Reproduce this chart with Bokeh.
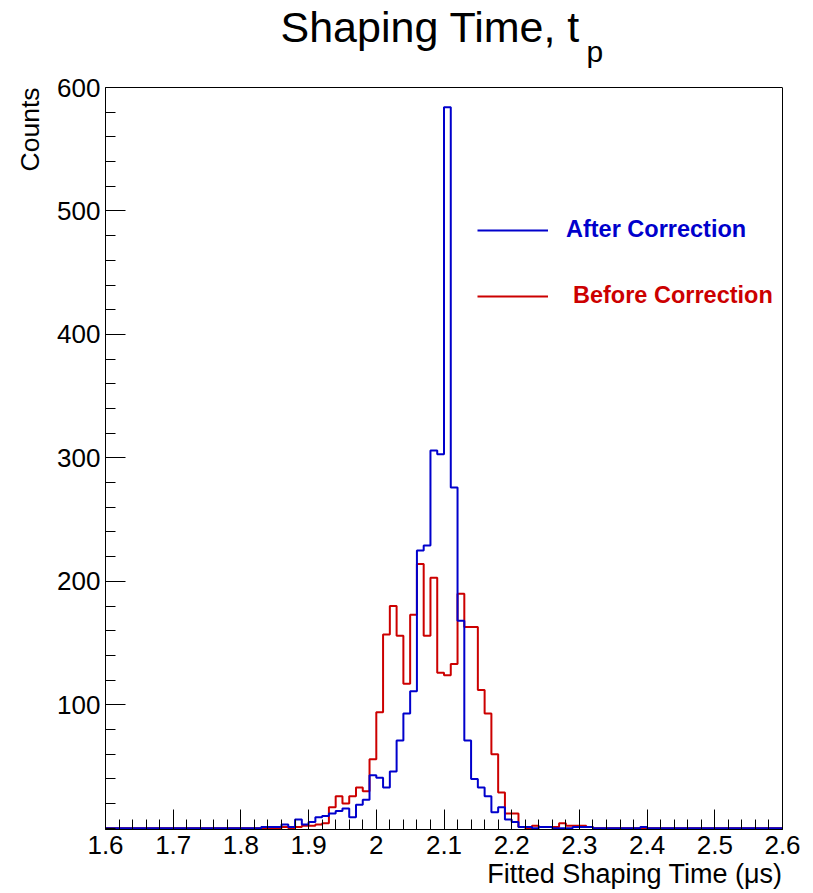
import math
from bokeh.plotting import figure
from bokeh.models import (Range1d, FixedTicker, Label, Legend, LegendItem,
                          LinearAxis, Span, Title)
from bokeh.embed import file_html
from bokeh.resources import INLINE

# ---------------- data ----------------
bin_low = 1.60
bin_width = 0.01
n_bins = 100

# counts per bin (bins of 0.01 from 1.60 to 2.60)
after_counts = [
    0, 0, 0, 0, 0, 0, 0, 0, 0, 0,          # 1.60-1.69
    0, 0, 0, 0, 0, 0, 0, 0, 0, 0,          # 1.70-1.79
    0, 0, 0, 1, 1, 1, 3, 1, 7, 3,          # 1.80-1.89
    5, 9, 10, 12, 14, 16, 9, 19, 23, 43,   # 1.90-1.99
    41, 33, 46, 71, 93, 111, 225, 229, 306, 303,  # 2.00-2.09
    584, 276, 168, 71, 40, 33, 26, 13, 17, 7,     # 2.10-2.19
    5, 1, 1, 0, 1, 1, 0, 0, 0, 1,          # 2.20-2.29
    1, 1, 0, 0, 0, 0, 0, 0, 0, 1,          # 2.30-2.39
    0, 0, 0, 0, 0, 0, 0, 0, 0, 0,          # 2.40-2.49
    0, 0, 0, 0, 0, 0, 0, 0, 0, 0,          # 2.50-2.59
]
before_counts = [
    0, 0, 0, 0, 0, 0, 0, 0, 0, 0,          # 1.60-1.69
    0, 0, 0, 0, 0, 0, 0, 0, 0, 0,          # 1.70-1.79
    0, 0, 0, 0, 0, 0, 1, 0, 1, 2,          # 1.80-1.89
    2, 3, 4, 17, 26, 20, 26, 33, 30, 56,   # 1.90-1.99
    94, 157, 180, 156, 117, 173, 214, 156, 203, 126,  # 2.00-2.09
    124, 133, 190, 163, 163, 112, 93, 60, 29, 12,     # 2.10-2.19
    12, 1, 0, 2, 1, 1, 1, 4, 2, 2,         # 2.20-2.29
    2, 1, 0, 0, 0, 0, 0, 0, 0, 0,          # 2.30-2.39
    0, 0, 0, 0, 0, 0, 0, 0, 0, 0,          # 2.40-2.49
    0, 0, 0, 0, 0, 0, 0, 0, 0, 0,          # 2.50-2.59
]

x_ticks = [1.6, 1.7, 1.8, 1.9, 2.0, 2.1, 2.2, 2.3, 2.4, 2.5, 2.6]
x_tick_labels = ["1.6", "1.7", "1.8", "1.9", "2", "2.1", "2.2", "2.3", "2.4", "2.5", "2.6"]
y_ticks = [100, 200, 300, 400, 500, 600]
y_tick_labels = ["100", "200", "300", "400", "500", "600"]

title_text = "Shaping Time, t"
title_sub = "p"
x_title = "Fitted Shaping Time (\u03bcs)"
y_title = "Counts"
series_names = ["After Correction", "Before Correction"]

BLUE = "#0000CC"
RED = "#CC0000"
FONT = "Liberation Sans"

# ---------------- layout ----------------
W, H = 813, 893
B_LEFT, B_RIGHT, B_TOP, B_BOTTOM = 105, 31, 0, 64
FRAME_TOP_PX = 87            # where y = 600 sits (from canvas top)
y_lo, y_hi = -1.0, 600.0
frame_h = H - B_TOP - B_BOTTOM
px_per_unit = (frame_h - FRAME_TOP_PX) / (y_hi - y_lo)
y_end = y_hi + FRAME_TOP_PX / px_per_unit   # frame extends up to hold the title

p = figure(width=W, height=H, output_backend="svg", toolbar_location=None,
           title=None,
           x_range=Range1d(1.6, 2.6), y_range=Range1d(y_lo, y_end),
           min_border_left=B_LEFT, min_border_right=B_RIGHT,
           min_border_top=B_TOP, min_border_bottom=B_BOTTOM)
p.background_fill_color = "white"
p.border_fill_color = "white"
p.outline_line_color = None
p.xgrid.visible = False
p.ygrid.visible = False

edges = [bin_low + bin_width * i for i in range(n_bins + 1)]
before_y = before_counts + [before_counts[-1]]
after_y = after_counts + [after_counts[-1]]

r_before = p.step(edges, before_y, mode="after", line_color=RED, line_width=2)
r_after = p.step(edges, after_y, mode="after", line_color=BLUE, line_width=2)

# axes
x_minor = [round(1.6 + 0.02 * i, 2) for i in range(51)]
y_minor = [20 * i for i in range(31)]
p.xaxis.ticker = FixedTicker(ticks=x_ticks, minor_ticks=x_minor)
p.yaxis.ticker = FixedTicker(ticks=y_ticks, minor_ticks=y_minor)
p.xaxis.major_label_overrides = dict(zip(x_ticks, x_tick_labels))
p.yaxis.major_label_overrides = dict(zip(y_ticks, y_tick_labels))
p.yaxis.bounds = (y_lo, y_hi)
for ax in (p.xaxis, p.yaxis):
    ax.axis_line_color = "black"
    ax.axis_line_width = 1
    ax.major_tick_line_color = "black"
    ax.minor_tick_line_color = "black"
    ax.major_tick_in = 20
    ax.major_tick_out = 0
    ax.minor_tick_in = 10
    ax.minor_tick_out = 0
    ax.major_label_text_font = FONT
    ax.major_label_text_font_size = "26px"
    ax.major_label_text_color = "black"
p.xaxis.major_label_standoff = 6
p.yaxis.major_label_standoff = 5

# axis titles as side-panel titles (right / top aligned like ROOT)
p.add_layout(Title(text=x_title, align="right", vertical_align="top",
                   text_font=FONT, text_font_size="27px",
                   text_font_style="normal", text_color="black",
                   standoff=4, offset=0), "below")
p.add_layout(Title(text=y_title, align="right", vertical_align="bottom",
                   text_font=FONT, text_font_size="26.5px",
                   text_font_style="normal", text_color="black",
                   standoff=20, offset=87), "left")

# frame: right side and top edge
right_axis = LinearAxis(ticker=FixedTicker(ticks=[]), bounds=(y_lo, y_hi),
                        axis_line_color="black", axis_line_width=1,
                        major_tick_in=0, major_tick_out=0,
                        minor_tick_in=0, minor_tick_out=0)
p.add_layout(right_axis, "right")
p.add_layout(Span(location=y_hi, dimension="width", line_color="black",
                  line_width=1))

# title (inside the extended frame, above y = 600)
p.add_layout(Label(x=280 - B_LEFT, y=(H - B_BOTTOM) - 42 + 16, x_units="screen",
                   y_units="screen", text=title_text, text_font=FONT,
                   text_font_size="43px", text_align="left",
                   text_baseline="alphabetic", text_color="black"))
p.add_layout(Label(x=586 - B_LEFT, y=(H - B_BOTTOM) - 63 + 12, x_units="screen",
                   y_units="screen", text=title_sub, text_font=FONT,
                   text_font_size="30px", text_align="left",
                   text_baseline="alphabetic", text_color="black"))

# legends
common = dict(orientation="vertical", glyph_width=71, glyph_height=24,
              label_height=24, padding=0, margin=0, spacing=0,
              border_line_alpha=0, background_fill_alpha=0,
              label_text_font=FONT, label_text_font_style="bold",
              label_text_font_size="23.5px")
leg_a = Legend(items=[LegendItem(label=series_names[0], renderers=[r_after])],
               location=(372, 586), label_standoff=18,
               label_text_color=BLUE, **common)
leg_b = Legend(items=[LegendItem(label=series_names[1], renderers=[r_before])],
               location=(372, 520), label_standoff=25,
               label_text_color=RED, **common)
p.add_layout(leg_a)
p.add_layout(leg_b)

open("out.html", "w").write(file_html(p, INLINE))
